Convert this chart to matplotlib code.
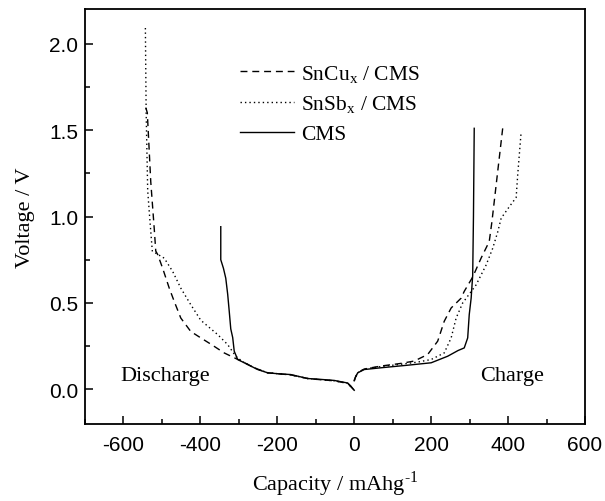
import matplotlib
matplotlib.use("Agg")
import matplotlib.pyplot as plt
from matplotlib.ticker import MultipleLocator, FuncFormatter

# ---- data ----
sncu_dis_x = [-542, -538, -529, -520, -516, -511, -498, -481, -468, -451, -425, -399, -373, -338, -312,
              -290, -260, -225, -195, -165, -121, -87, -52, -17, 0]
sncu_dis_y = [1.63, 1.60, 1.20, 0.93, 0.80, 0.78, 0.70, 0.586, 0.509, 0.413, 0.335, 0.298, 0.262, 0.211, 0.183,
              0.160, 0.125, 0.096, 0.090, 0.084, 0.063, 0.056, 0.050, 0.035, -0.005]
sncu_chg_x = [0, 3, 9, 26, 69, 120, 156, 191, 217, 234, 252, 278, 286, 308, 330, 351, 358, 373, 386]
sncu_chg_y = [0.05, 0.07, 0.096, 0.118, 0.135, 0.150, 0.164, 0.202, 0.279, 0.394, 0.471, 0.528, 0.567,
              0.65, 0.76, 0.855, 0.97, 1.26, 1.51]

snsb_dis_x = [-543, -541, -537, -531, -525, -510, -494, -472, -451, -425, -399, -355, -329, -308,
              -290, -260, -225, -195, -165, -121, -87, -52, -17, 0]
snsb_dis_y = [2.09, 1.60, 1.15, 0.97, 0.80, 0.78, 0.759, 0.682, 0.586, 0.49, 0.40, 0.317, 0.259, 0.192,
              0.160, 0.125, 0.096, 0.090, 0.084, 0.063, 0.056, 0.050, 0.035, -0.005]
snsb_chg_x = [0, 3, 9, 26, 69, 120, 165, 200, 234, 252, 265, 282, 317, 343, 360, 373, 382, 403, 421, 425, 434]
snsb_chg_y = [0.05, 0.07, 0.096, 0.118, 0.132, 0.145, 0.158, 0.173, 0.211, 0.298, 0.413, 0.50, 0.605,
              0.72, 0.816, 0.91, 0.99, 1.056, 1.11, 1.24, 1.49]

cms_dis_x = [-347, -347, -340, -334, -329, -325, -321, -316, -312, -303, -277, -251, -225, -195, -165,
             -121, -87, -52, -17, -9, 0]
cms_dis_y = [0.941, 0.75, 0.70, 0.643, 0.55, 0.452, 0.35, 0.30, 0.221, 0.173, 0.144, 0.115, 0.096, 0.090,
             0.086, 0.063, 0.058, 0.052, 0.037, 0.02, -0.005]
cms_chg_x = [0, 3, 9, 26, 69, 139, 200, 243, 270, 286, 295, 299, 304, 308, 310, 312]
cms_chg_y = [0.05, 0.07, 0.096, 0.115, 0.125, 0.140, 0.154, 0.192, 0.225, 0.240, 0.298, 0.432, 0.528,
             0.66, 1.0, 1.51]

labels = ["SnCu$_\\mathregular{x}$ / CMS", "SnSb$_\\mathregular{x}$ / CMS", "CMS"]

serif = ["Liberation Serif", "DejaVu Serif"]
sans = ["Liberation Sans", "DejaVu Sans"]

plt.rcParams["mathtext.fontset"] = "custom"
plt.rcParams["mathtext.rm"] = "Liberation Serif"

fig = plt.figure(figsize=(6.05, 5.02), dpi=100)
ax = fig.add_axes([85 / 605, 1 - 425 / 502, 500 / 605, 415 / 502])

lw = 1.0
dash = (0, (5, 3.5))
dot = (0, (1, 2.2))
l1, = ax.plot(sncu_dis_x, sncu_dis_y, color="black", lw=lw, linestyle=dash)
ax.plot(sncu_chg_x, sncu_chg_y, color="black", lw=lw, linestyle=dash)
l2, = ax.plot(snsb_dis_x, snsb_dis_y, color="black", lw=lw, linestyle=dot)
ax.plot(snsb_chg_x, snsb_chg_y, color="black", lw=lw, linestyle=dot)
l3, = ax.plot(cms_dis_x, cms_dis_y, color="black", lw=lw, linestyle="-")
ax.plot(cms_chg_x, cms_chg_y, color="black", lw=lw, linestyle="-")

ax.set_xlim(-700, 600)
ax.set_ylim(-0.2, 2.2)
ax.xaxis.set_major_locator(MultipleLocator(200))
ax.xaxis.set_minor_locator(MultipleLocator(100))
ax.yaxis.set_major_locator(MultipleLocator(0.5))
ax.yaxis.set_minor_locator(MultipleLocator(0.25))
ax.tick_params(which="both", direction="in", width=1.1, top=False, right=False)
ax.tick_params(which="major", length=6)
ax.tick_params(which="minor", length=3.5)
ax.tick_params(axis="x", pad=8)
ax.tick_params(axis="y", pad=5)
for s in ax.spines.values():
    s.set_linewidth(1.3)

ax.xaxis.set_major_formatter(FuncFormatter(lambda v, p: "%d" % v))
ax.yaxis.set_major_formatter(FuncFormatter(lambda v, p: "%.1f" % v))
for t in ax.get_xticklabels() + ax.get_yticklabels():
    t.set_family(sans)
    t.set_fontsize(15)

ax.set_xlabel("Capacity / mAhg$^{\\text{-1}}$", family=serif, fontsize=16, labelpad=10)
ax.set_ylabel("Voltage / V", family=serif, fontsize=16, labelpad=10)

ax.text(-607, 0.056, "Discharge", family=serif, fontsize=16, va="baseline", ha="left")
ax.text(328, 0.056, "Charge", family=serif, fontsize=16, va="baseline", ha="left")

leg = ax.legend([l1, l2, l3], labels, loc="upper left", bbox_to_anchor=(0.31, 0.87),
                frameon=False, prop={"family": serif, "size": 15.5}, handlelength=2.5,
                handletextpad=0.33, labelspacing=0.42, borderpad=0, borderaxespad=0)

fig.savefig("out.png", dpi=100)
